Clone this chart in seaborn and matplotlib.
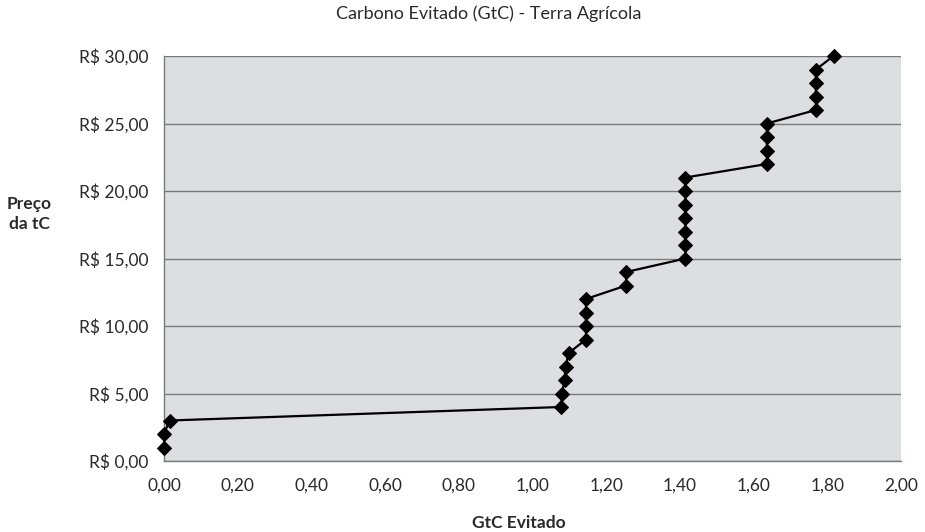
import matplotlib
matplotlib.use("Agg")
import matplotlib.pyplot as plt
import seaborn as sns
import pandas as pd
from matplotlib.ticker import FuncFormatter, MultipleLocator

# Data
gtc_evitado = [0.000, 0.000, 0.015, 1.078, 1.080, 1.087, 1.090, 1.098,
               1.145, 1.145, 1.145, 1.145, 1.254, 1.254,
               1.415, 1.415, 1.415, 1.415, 1.415, 1.415, 1.415,
               1.636, 1.636, 1.636, 1.636,
               1.769, 1.769, 1.769, 1.769, 1.817]
preco_tc = [1, 2, 3, 4, 5, 6, 7, 8, 9, 10, 11, 12, 13, 14, 15, 16, 17, 18,
            19, 20, 21, 22, 23, 24, 25, 26, 27, 28, 29, 30]

title = "Carbono Evitado (GtC) - Terra Agrícola"
xlabel = "GtC Evitado"
ylabel = "Preço\nda tC"

df = pd.DataFrame({"x": gtc_evitado, "y": preco_tc})

sns.set_style("white")
plt.rcParams["font.family"] = ["Lato", "DejaVu Sans"]

fig = plt.figure(figsize=(9.25, 5.32), dpi=100)
ax = fig.add_axes([164 / 925, 1 - 461 / 532, (901 - 164) / 925, (461 - 56) / 532])
ax.set_facecolor("#dcdee1")

sns.lineplot(data=df, x="x", y="y", sort=False, estimator=None,
             color="black", linewidth=1.6, marker="D", markersize=7,
             markeredgecolor="black", markerfacecolor="black", ax=ax,
             clip_on=False, zorder=5)

ax.set_xlim(0, 2.0)
ax.set_ylim(0, 30)
ax.xaxis.set_major_locator(MultipleLocator(0.2))
ax.yaxis.set_major_locator(MultipleLocator(5))
ax.xaxis.set_major_formatter(FuncFormatter(lambda v, p: f"{v:.2f}".replace(".", ",")))
ax.yaxis.set_major_formatter(FuncFormatter(lambda v, p: "R$ " + f"{v:.2f}".replace(".", ",")))

ax.grid(axis="y", color="#7a7a7a", linewidth=1.0)
ax.grid(axis="x", visible=False)
ax.set_axisbelow(True)

for side in ["top", "right"]:
    ax.spines[side].set_visible(False)
for side in ["left", "bottom"]:
    ax.spines[side].set_color("#7a7a7a")
    ax.spines[side].set_linewidth(1.0)

ax.tick_params(axis="both", which="major", direction="out", length=5, width=1,
               color="#7a7a7a", labelsize=12.5, labelcolor="#2a2a2a")
ax.tick_params(axis="x", pad=7)
ax.tick_params(axis="y", pad=6)

ax.set_xlabel("")
ax.set_ylabel("")

fig.text(489 / 925, 1 - 14 / 532, title, ha="center", va="center",
         fontsize=13, color="#2a2a2a")
fig.text(519 / 925, 1 - 523 / 532, xlabel, ha="center", va="center",
         fontsize=12.5, fontweight="bold", color="#2a2a2a")
fig.text(29 / 925, 1 - 214 / 532, ylabel, ha="center", va="center",
         fontsize=12.5, fontweight="bold", color="#2a2a2a", linespacing=1.3)

fig.savefig("out.png", dpi=100, facecolor="white")
